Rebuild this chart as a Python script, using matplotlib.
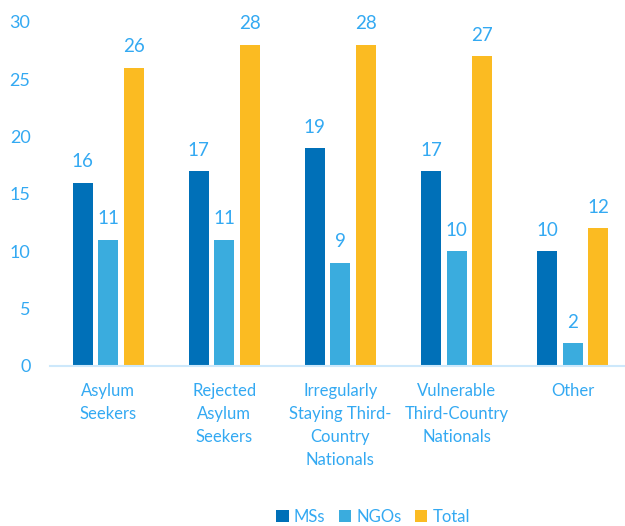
import numpy as np
import matplotlib.pyplot as plt

plt.rcParams['font.family'] = ['Lato', 'DejaVu Sans']

categories = ['Asylum\nSeekers', 'Rejected\nAsylum\nSeekers',
              'Irregularly\nStaying Third-\nCountry\nNationals',
              'Vulnerable\nThird-Country\nNationals', 'Other']
ms = [16, 17, 19, 17, 10]
ngos = [11, 11, 9, 10, 2]
total = [26, 28, 28, 27, 12]

series = [('MSs', ms, '#0070b8'), ('NGOs', ngos, '#3aacde'), ('Total', total, '#fbbb22')]
txt = '#33a9f2'

fig = plt.figure(figsize=(6.25, 5.26), dpi=100)
ax = fig.add_axes([0.08, 0.3042, 0.92, 0.654])

x = np.arange(len(categories))
w = 0.172
step = 0.22
for i, (name, vals, col) in enumerate(series):
    pos = x + (i - 1) * step
    bars = ax.bar(pos, vals, w, color=col, label=name)
    for b, v in zip(bars, vals):
        ax.annotate(str(v), (b.get_x() + b.get_width() / 2, v), xytext=(0, 9),
                    textcoords='offset points', ha='center', va='bottom',
                    color=txt, fontsize=13.5)

ax.set_xlim(-0.5, 4.45)
ax.set_ylim(0, 30)
ax.set_yticks(range(0, 31, 5))
ax.set_xticks(x)
ax.set_xticklabels(categories, linespacing=1.55)
ax.tick_params(axis='both', length=0, colors=txt, labelsize=12)
ax.tick_params(axis='y', labelsize=13, pad=14)
ax.tick_params(axis='x', pad=12)
for s in ['top', 'right', 'left']:
    ax.spines[s].set_visible(False)
ax.spines['bottom'].set_color('#cde8fb')
ax.spines['bottom'].set_linewidth(1.5)

leg = ax.legend(loc='lower center', bbox_to_anchor=(0.562, -0.505), ncol=3,
                frameon=False, fontsize=12, handlelength=0.75, handleheight=0.75,
                handletextpad=0.3, columnspacing=0.8)
for t in leg.get_texts():
    t.set_color(txt)

fig.savefig('out.png', dpi=100)
